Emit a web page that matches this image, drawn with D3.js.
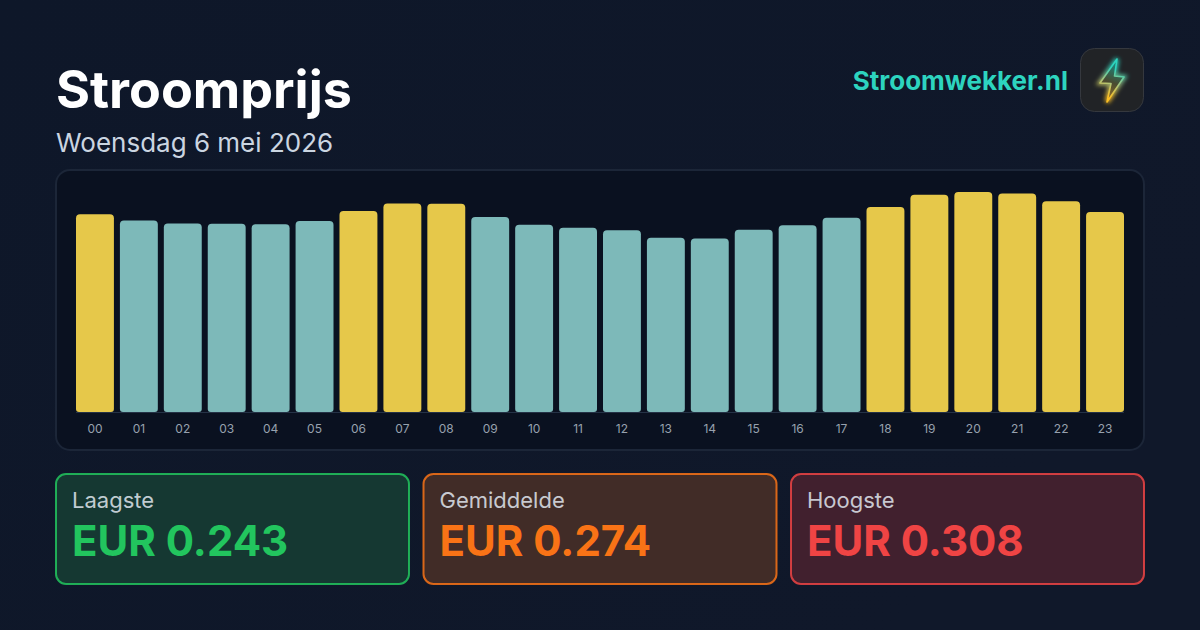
<!DOCTYPE html>
<html><head><meta charset="utf-8">
<script src="https://cdnjs.cloudflare.com/ajax/libs/d3/7.8.5/d3.min.js"></script>
<style>html,body{margin:0;padding:0;background:#0f172a;overflow:hidden}svg{display:block}text{font-family:Inter,sans-serif}</style>
</head><body><svg id="c" width="1200" height="630"></svg>
<script>
const hours=["00","01","02","03","04","05","06","07","08","09","10","11","12","13","14","15","16","17","18","19","20","21","22","23"];
const prices=[0.277,0.268,0.264,0.2635,0.263,0.2675,0.2815,0.292,0.2915,0.273,0.262,0.258,0.2545,0.244,0.243,0.255,0.2615,0.272,0.287,0.304,0.308,0.306,0.295,0.280];
const expensiveHours=["00","06","07","08","18","19","20","21","22","23"];
const statLabels=["Laagste","Gemiddelde","Hoogste"];
const statValues=["EUR 0.243","EUR 0.274","EUR 0.308"];
const statColors=["#22c55e","#f97316","#ef4444"];
const statFills=["#153832","#412c27","#41202e"];

const svg=d3.select("#c");
const defs=svg.append("defs");
const bg=defs.append("linearGradient").attr("id","bg").attr("x1",0).attr("y1",0).attr("x2",1).attr("y2",0.5);
bg.append("stop").attr("offset",0).attr("stop-color","#0e1729");
bg.append("stop").attr("offset",1).attr("stop-color","#10182a");
const boltG=defs.append("linearGradient").attr("id","bolt").attr("x1",0.6).attr("y1",0).attr("x2",0.4).attr("y2",1);
boltG.append("stop").attr("offset",0.2).attr("stop-color","#2dd4bf");
boltG.append("stop").attr("offset",0.55).attr("stop-color","#a8c47e");
boltG.append("stop").attr("offset",0.9).attr("stop-color","#fbbf24");
const fillG=defs.append("linearGradient").attr("id","boltFill").attr("x1",0.6).attr("y1",0).attr("x2",0.4).attr("y2",1);
fillG.append("stop").attr("offset",0.15).attr("stop-color","#1f7f74");
fillG.append("stop").attr("offset",0.55).attr("stop-color","#4a4a30");
fillG.append("stop").attr("offset",0.9).attr("stop-color","#8a6a28");
defs.append("filter").attr("id","glow").attr("x","-60%").attr("y","-60%").attr("width","220%").attr("height","220%")
  .append("feGaussianBlur").attr("stdDeviation",2);

svg.append("rect").attr("width",1200).attr("height",630).attr("fill","url(#bg)");

svg.append("text").attr("x",56).attr("y",108).attr("font-size",52).attr("font-weight",700).attr("fill","#ffffff").text("Stroomprijs");
svg.append("text").attr("x",56).attr("y",152).attr("font-size",26).attr("fill","#cbd5e1").text("Woensdag 6 mei 2026");
svg.append("text").attr("x",1068).attr("y",90).attr("text-anchor","end").attr("font-size",26).attr("font-weight",700).attr("fill","#2dd4bf").text("Stroomwekker.nl");

svg.append("rect").attr("x",1080.5).attr("y",48.5).attr("width",63).attr("height",63).attr("rx",14).attr("fill","#212326").attr("stroke","#35383e");
const boltPts=[[1117,59],[1100,83],[1111,83.5],[1107,102],[1124,77],[1114.5,76]];
const boltD=d3.line()(boltPts)+"Z";
svg.append("path").attr("d",boltD).attr("fill","none").attr("stroke","url(#bolt)").attr("stroke-width",4.5).attr("stroke-opacity",0.9).attr("filter","url(#glow)");
svg.append("path").attr("d",boltD).attr("fill","url(#boltFill)").attr("stroke","url(#bolt)").attr("stroke-width",1.6).attr("stroke-linejoin","round");

svg.append("rect").attr("x",56).attr("y",170).attr("width",1088).attr("height",280).attr("rx",14).attr("fill","#0a1120").attr("stroke","#1c2638").attr("stroke-width",2);

const x=d3.scaleBand().domain(hours).range([76,1124]).paddingInner(0.1366).paddingOuter(0);
const y=d3.scaleLinear().domain([0,0.308]).range([412,192]);
const barPath=(l,t,w,b,r,s)=>`M${l},${b-s}V${t+r}Q${l},${t} ${l+r},${t}H${l+w-r}Q${l+w},${t} ${l+w},${t+r}V${b-s}Q${l+w},${b} ${l+w-s},${b}H${l+s}Q${l},${b} ${l},${b-s}Z`;
svg.append("line").attr("x1",76).attr("x2",1124).attr("y1",412.5).attr("y2",412.5).attr("stroke","#253246");
svg.append("g").selectAll("path").data(hours).join("path")
  .attr("d",(h,i)=>barPath(x(h),y(prices[i]),x.bandwidth(),y(0),4,3))
  .attr("fill",h=>expensiveHours.includes(h)?"#e6c84a":"#7db9b9");

const axis=d3.axisBottom(x).tickSize(0).tickPadding(0);
const ax=svg.append("g").attr("transform","translate(0,412)").call(axis);
ax.select(".domain").remove();
ax.selectAll("text").attr("y",12).attr("dy","0.71em").attr("font-size",12).attr("font-family","Inter").attr("fill","#97a1ae");

const cardX=d3.scalePoint().domain(statLabels).range([56,791]);
const cards=svg.append("g").selectAll("g").data(statLabels).join("g").attr("transform",d=>`translate(${cardX(d)},474)`);
cards.append("rect").attr("width",353).attr("height",110).attr("rx",10)
  .attr("fill",(d,i)=>statFills[i]).attr("stroke",(d,i)=>statColors[i]).attr("stroke-width",2).attr("stroke-opacity",0.85);
cards.append("text").attr("x",16).attr("y",34).attr("font-size",22).attr("fill","#e2e8f0").attr("fill-opacity",0.85).text(d=>d);
cards.append("text").attr("x",16).attr("y",82).attr("font-size",42).attr("font-weight",700).attr("fill",(d,i)=>statColors[i]).text((d,i)=>statValues[i]);
</script></body></html>
